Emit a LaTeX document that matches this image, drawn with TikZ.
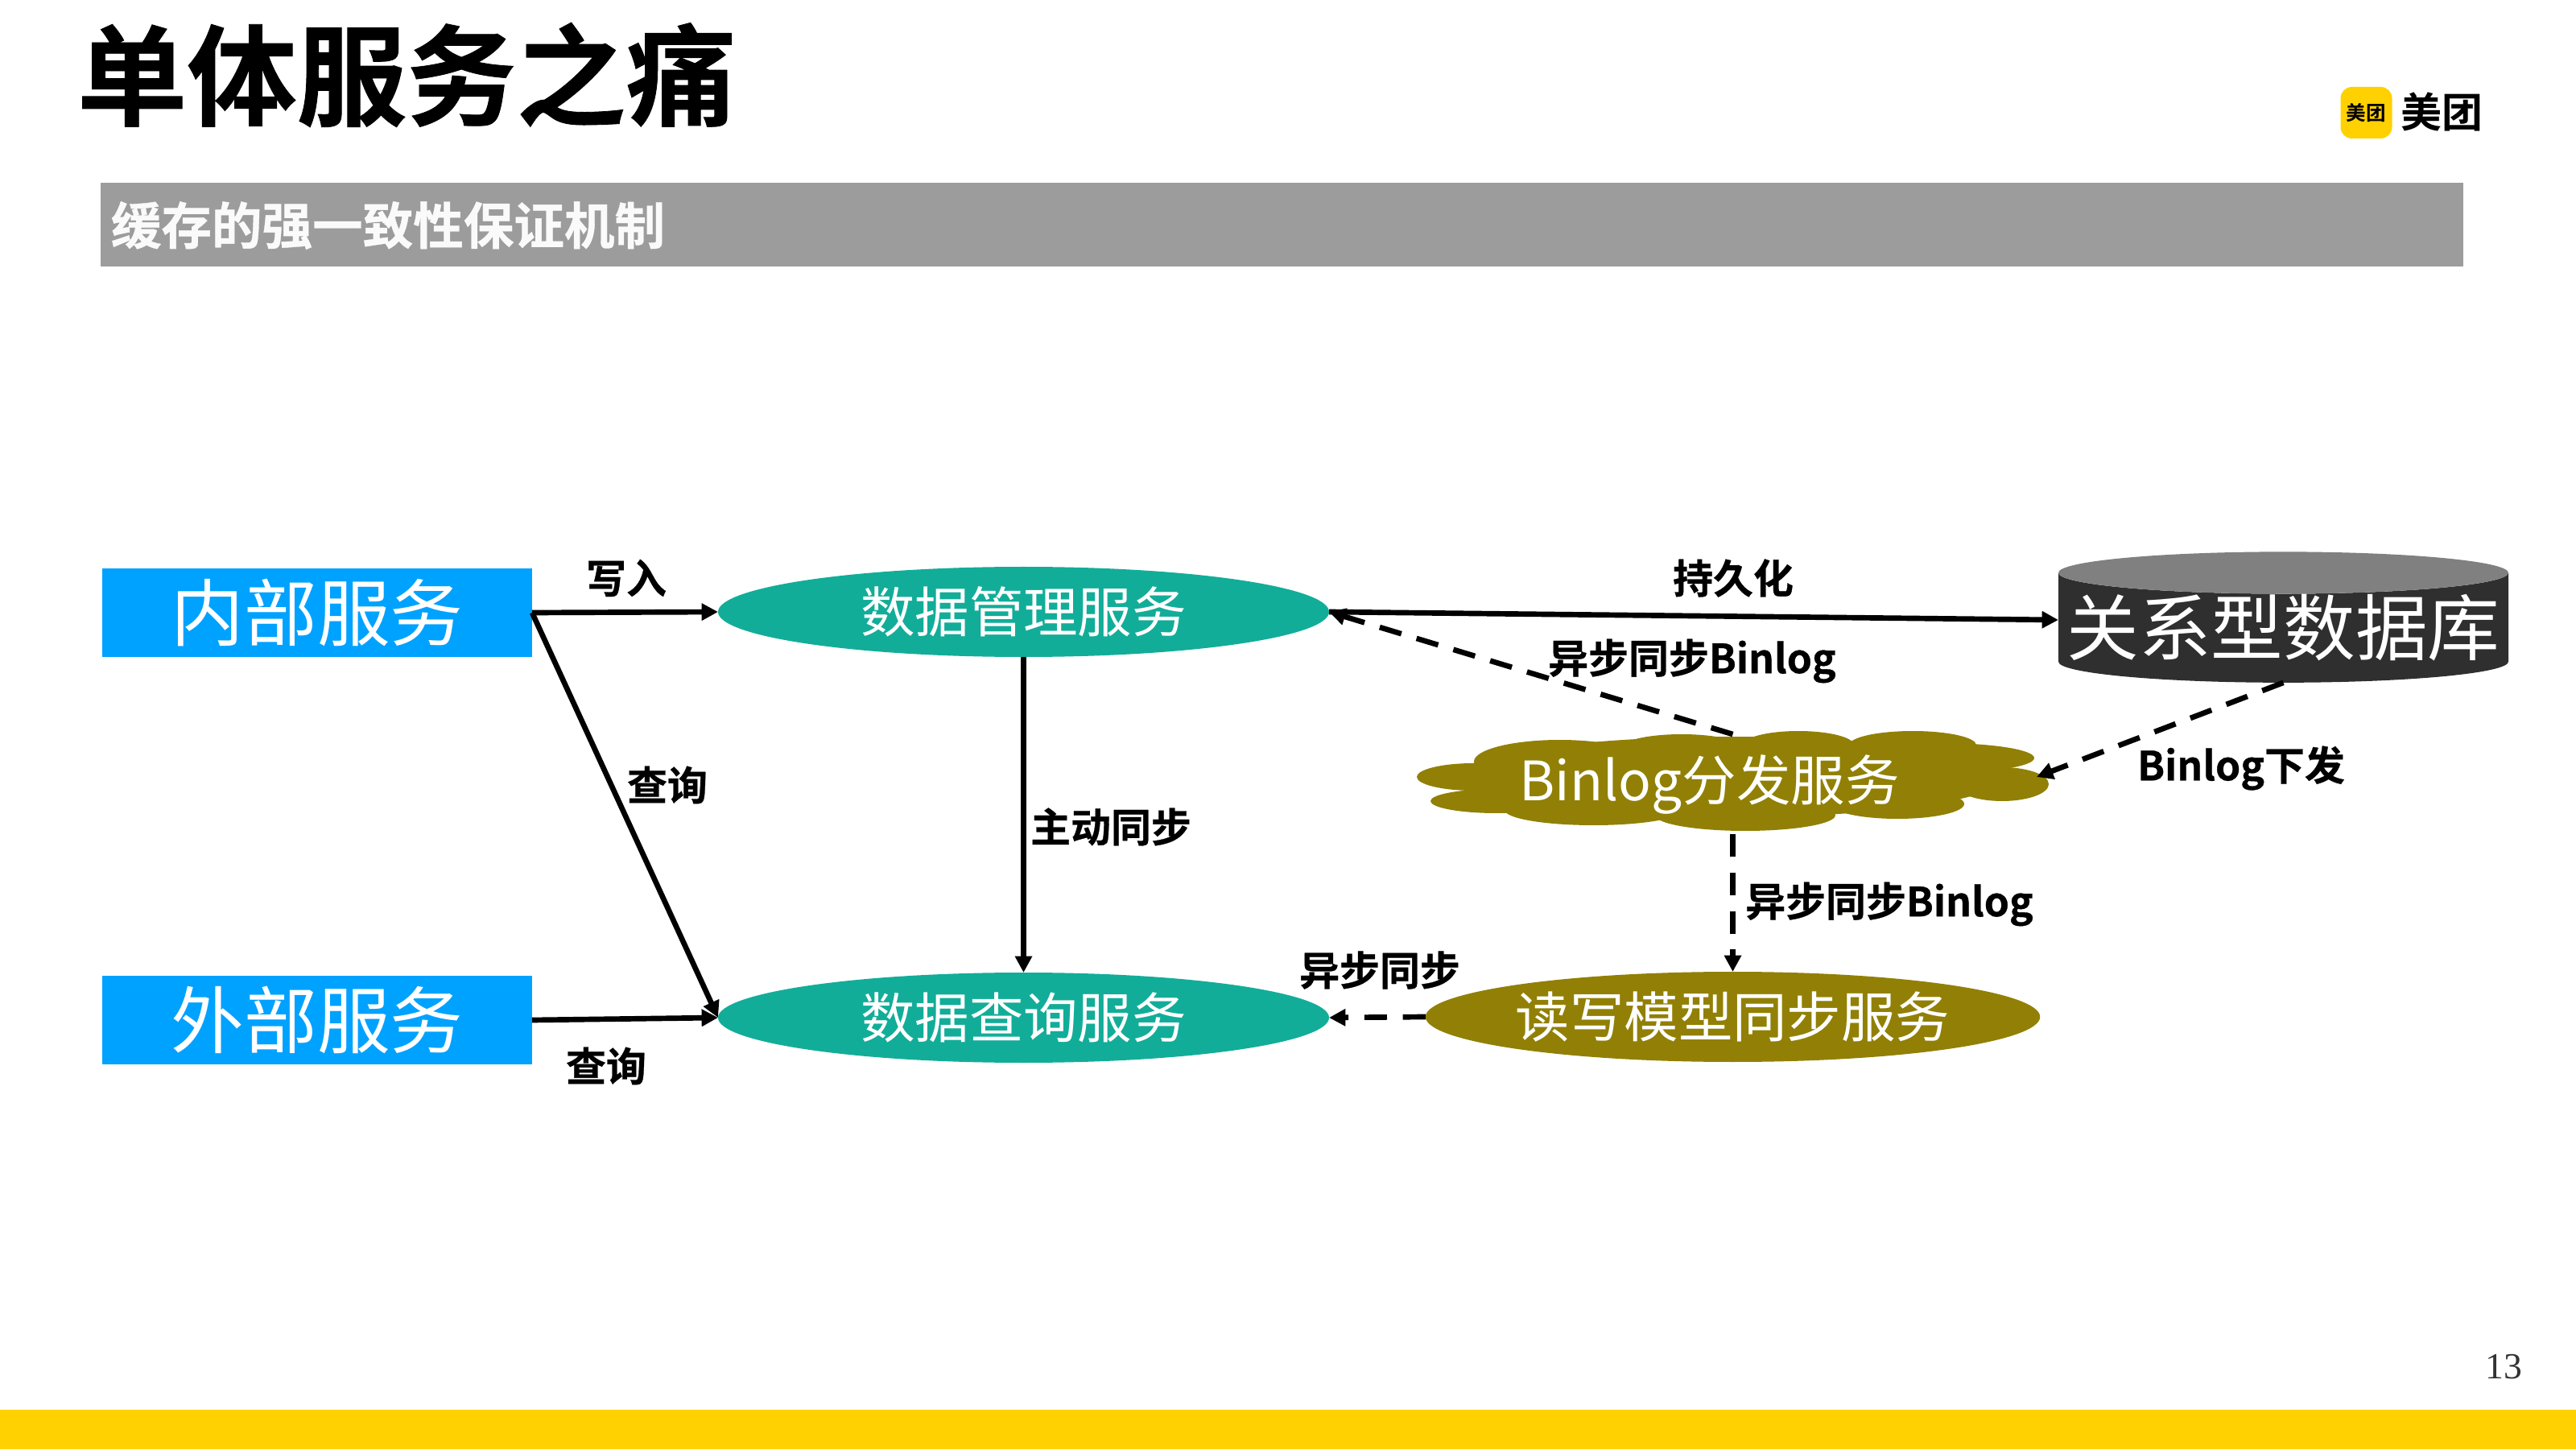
\documentclass[tikz,border=0pt]{standalone}
\usepackage{fontspec}
\setmainfont{Noto Sans CJK SC}[BoldFont={Noto Sans CJK SC Bold}]
\newfontfamily\heavyfont{Noto Sans CJK SC Bold}[FakeBold=0.6]
\newfontfamily\pagefont{Liberation Serif}
\usepackage{xcolor}
\definecolor{mtyellow}{RGB}{255,209,0}
\definecolor{mtblue}{RGB}{0,162,255}
\definecolor{mtteal}{RGB}{18,173,153}
\definecolor{mtolive}{RGB}{145,128,5}
\definecolor{mtgray}{RGB}{156,156,156}
\definecolor{dbdark}{RGB}{47,47,47}
\definecolor{dbtop}{RGB}{128,128,128}
\usetikzlibrary{shapes.geometric, arrows.meta}

\begin{document}
\begin{tikzpicture}[
    solidarrow/.style={-{Triangle[length=5.8pt, width=5.8pt]}, line width=1.9pt, black},
    dasharrow/.style={solidarrow, dash pattern=on 8pt off 5.6pt},
    svcbox/.style={rectangle, fill=mtblue, text=white, minimum width=5.34cm, minimum height=1.10cm,
                   inner sep=0pt, outer sep=0pt, font=\fontsize{25.8}{30}\selectfont},
    tealsvc/.style={ellipse, fill=mtteal, text=white, minimum width=7.59cm, minimum height=1.12cm,
                    inner sep=0pt, outer sep=0pt, font=\fontsize{19.2}{23}\selectfont},
    olivesvc/.style={tealsvc, fill=mtolive},
    cloudsvc/.style={rectangle, text=white, minimum width=7.85cm, minimum height=1.24cm,
                     inner sep=0pt, outer sep=0pt, font=\fontsize{19.2}{23}\selectfont},
    dbnode/.style={cylinder, shape border rotate=90, aspect=0.097, cylinder uses custom fill,
                   cylinder body fill=dbdark, cylinder end fill=dbtop, text=white,
                   minimum width=5.59cm, minimum height=1.625cm, inner sep=0pt, outer sep=0pt,
                   font=\fontsize{25.5}{30}\selectfont},
    edgelabel/.style={font=\heavyfont\fontsize{14.2}{17}\selectfont, inner sep=0pt},
  ]
    \useasboundingbox (0,0) rectangle (32,18);

    % --- Header ---
    \node[font=\heavyfont\fontsize{38.8}{46}\selectfont, inner sep=0pt] (title) at (5.05, 17.07) {单体服务之痛};
    \node[fill=mtgray, minimum width=29.35cm, minimum height=1.04cm, inner sep=0pt] (bar) at (15.925, 15.21) {};
    \node[font=\heavyfont\fontsize{17.8}{21}\selectfont, text=white!95!mtgray, inner sep=0pt] (subtitle) at (4.82, 15.2) {缓存的强一致性保证机制};

    % --- Logo ---
    \node[fill=mtyellow, rounded corners=4pt, minimum size=0.64cm, inner sep=0pt] (logomark) at (29.395, 16.6) {};
    \node[font=\fontsize{7}{8}\selectfont\bfseries, inner sep=0pt] (logoinner) at (logomark) {美团};
    \node[font=\fontsize{14.5}{16}\selectfont\bfseries, inner sep=0pt] (logotext) at (30.33, 16.61) {美团};

    % --- Footer ---
    \fill[mtyellow] (0,0) rectangle (32,0.49);
    \node[font=\pagefont\fontsize{13}{15}\selectfont, text=black!80, inner sep=0pt] (pagenum) at (31.1, 1.02) {13};

    % --- Binlog cloud ---
    \foreach \x/\y/\a/\b in {18.305/8.35/0.705/0.17, 19.375/8.54/1.065/0.27, 18.59/8.05/0.82/0.15,
        19.795/7.94/1.105/0.19, 21.68/7.875/1.12/0.195, 23.57/8.015/0.83/0.185, 24.87/8.26/0.58/0.21,
        24.12/8.585/1.15/0.185, 23.76/8.745/0.79/0.175, 22.34/8.745/0.69/0.175, 20.89/8.705/0.76/0.175,
        21.5/8.35/3.4/0.5} {
      \fill[mtolive] (\x, \y) ellipse (\a cm and \b cm);
    }

    % --- Services ---
    \node[svcbox] (inner) at (3.94, 10.39) {内部服务};
    \node[svcbox] (outer) at (3.94, 5.33) {外部服务};
    \node[tealsvc] (manage) at (12.715, 10.40) {数据管理服务};
    \node[tealsvc] (query) at (12.715, 5.36) {数据查询服务};
    \node[olivesvc] (sync) at (21.525, 5.37) {读写模型同步服务};
    \node[cloudsvc] (binlog) at (21.525, 8.26) {\hspace*{-0.58cm}Binlog分发服务};
    \node[dbnode] (db) at (28.365, 10.20) {关系型数据库};

    % --- Connectors ---
    \draw[solidarrow] (inner.east) -- (manage.west);
    \draw[solidarrow] (inner.east) -- (query.west);
    \draw[solidarrow] (outer.east) -- (query.west);
    \draw[solidarrow] (manage.south) -- (query.north);
    \draw[solidarrow] (manage.east) -- ([yshift=0.1cm]db.west);
    \draw[dasharrow] (binlog.north) -- (manage.east);
    \draw[dasharrow] (db.south) -- ([xshift=-0.15cm, yshift=0.09cm]binlog.east);
    \draw[dasharrow] (binlog.south) -- (sync.north);
    \draw[dasharrow] (sync.west) -- (query.east);

    % --- Labels ---
    \node[edgelabel] (lblwrite) at (7.78, 10.82) {写入};
    \node[edgelabel] (lblquerya) at (8.29, 8.25) {查询};
    \node[edgelabel] (lblqueryb) at (7.53, 4.76) {查询};
    \node[edgelabel] (lblactive) at (13.80, 7.73) {主动同步};
    \node[edgelabel] (lblpersist) at (21.53, 10.82) {持久化};
    \node[edgelabel] (lblasynca) at (21.02, 9.79) {异步同步Binlog};
    \node[edgelabel] (lbldown) at (27.84, 8.46) {Binlog下发};
    \node[edgelabel] (lblasyncb) at (23.47, 6.77) {异步同步Binlog};
    \node[edgelabel] (lblasyncc) at (17.14, 5.95) {异步同步};
  \end{tikzpicture}
\end{document}
